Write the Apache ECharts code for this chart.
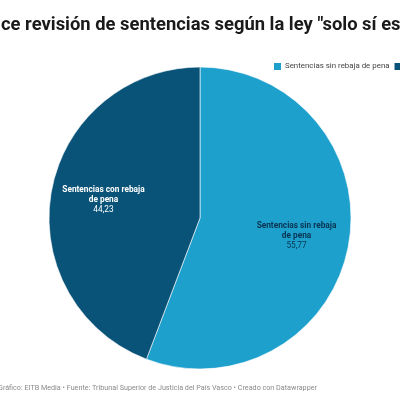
<!DOCTYPE html>
<html>
<head>
<meta charset="utf-8">
<script src="https://cdn.jsdelivr.net/npm/echarts@6/dist/echarts.min.js"></script>
<style>html,body{margin:0;padding:0;background:#fff}#c{width:400px;height:400px}</style>
</head>
<body>
<div id="c"></div>
<script>
const titleText = 'ce revisión de sentencias según la ley "solo sí es';
const footerText = 'Gráfico: EITB Media • Fuente: Tribunal Superior de Justicia del País Vasco • Creado con Datawrapper';
const categories = ['Sentencias sin rebaja de pena', 'Sentencias con rebaja de pena'];
const labelNames = ['Sentencias sin rebaja\nde pena', 'Sentencias con rebaja\nde pena'];
const values = [55.77, 44.23];
const colors = ['#1ea0cd', '#0a5378'];
const labelColors = ['#0a3350', '#ffffff'];

const chart = echarts.init(document.getElementById('c'), null, {renderer: 'canvas'});
const fmt = v => v.toFixed(2).replace('.', ',');
const R = 151;
const C = [200, 218];

const mainData = categories.map((n, i) => ({
  name: n, value: values[i], itemStyle: {color: colors[i]}
}));
const labelData = categories.map((n, i) => ({
  name: n, value: values[i],
  label: {
    formatter: '{b|' + labelNames[i] + '}\n{v|' + fmt(values[i]) + '}',
    rich: {
      b: {color: labelColors[i], fontWeight: 'bold', fontSize: 8.3, lineHeight: 10, fontFamily: 'Roboto', align: 'center'},
      v: {color: labelColors[i], fontSize: 8.3, lineHeight: 10, fontFamily: 'Roboto', align: 'center'}
    }
  }
}));

chart.setOption({
  animation: false,
  title: [{
    text: titleText, left: 1, top: 16, padding: 0,
    textStyle: {fontSize: 18.4, fontWeight: 'bold', color: '#1a1a1a', fontFamily: 'Roboto'}
  }, {
    text: footerText, left: -2, top: 385, padding: 0,
    textStyle: {fontSize: 7.2, fontWeight: 'normal', color: '#8a8a8a', fontFamily: 'Roboto'}
  }],
  legend: {
    left: 272, top: 61, width: 800, orient: 'horizontal', padding: 0,
    itemWidth: 9, itemHeight: 9, itemGap: 3,
    icon: 'rect', selectedMode: false,
    data: categories,
    textStyle: {fontSize: 7.9, color: '#444', fontFamily: 'Roboto', padding: [0, 0, 0, -2]}
  },
  series: [{
    type: 'pie', center: C, radius: [0, R],
    startAngle: 90, clockwise: true,
    label: {show: false}, labelLine: {show: false},
    itemStyle: {borderColor: '#ffffff', borderWidth: 0.6},
    emphasis: {disabled: true},
    data: mainData
  }, {
    type: 'pie', center: C, radius: [R * 0.26, R],
    startAngle: 90, clockwise: true, silent: true,
    itemStyle: {color: 'rgba(0,0,0,0)'},
    label: {show: true, position: 'inside'},
    labelLine: {show: false},
    emphasis: {disabled: true},
    data: labelData
  }]
});
</script>
</body>
</html>
